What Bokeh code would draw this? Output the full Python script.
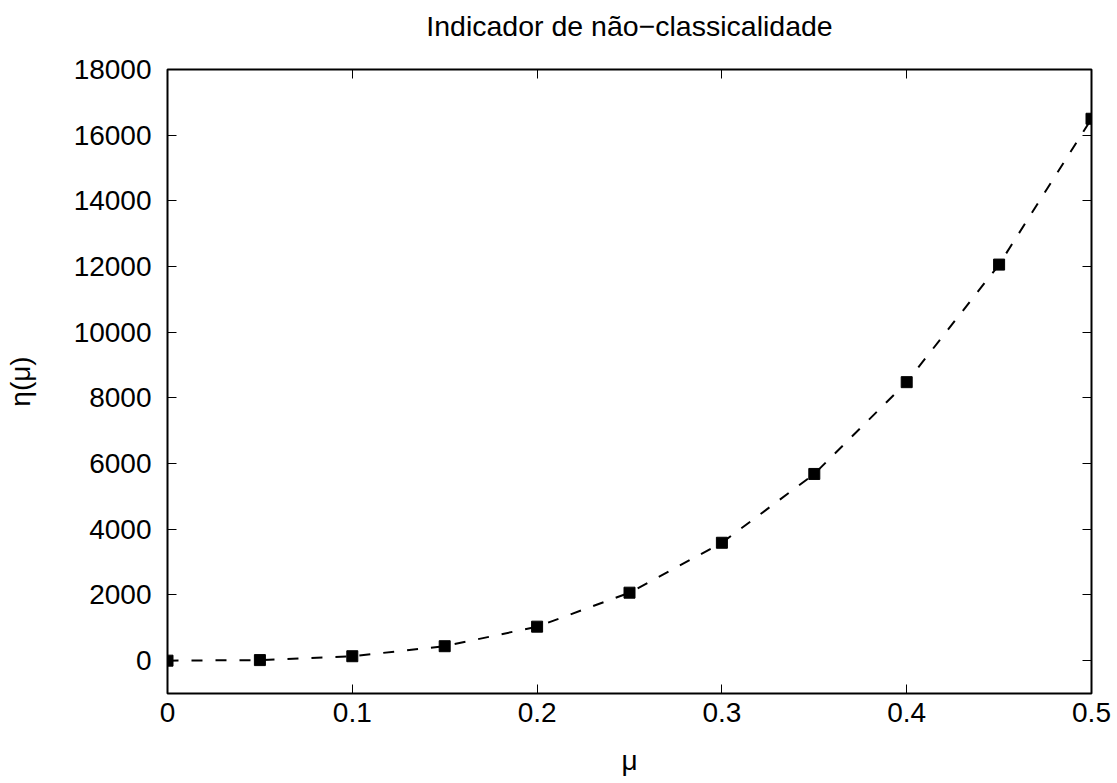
from bokeh.plotting import figure
from bokeh.models import LinearAxis, Range1d, FixedTicker, CustomJSTickFormatter
from bokeh.embed import file_html
from bokeh.resources import INLINE

# Non-classicality indicator eta(mu) sampled at mu = 0, 0.05, ..., 0.5
mu = [0.0, 0.05, 0.10, 0.15, 0.20, 0.25, 0.30, 0.35, 0.40, 0.45, 0.50]
eta = [0, 17, 135, 440, 1035, 2070, 3590, 5685, 8480, 12060, 16500]

x_ticks = [0, 0.1, 0.2, 0.3, 0.4, 0.5]
y_ticks = [0, 2000, 4000, 6000, 8000, 10000, 12000, 14000, 16000, 18000]

TITLE = "Indicador de não\u2212classicalidade"
FONT = "Liberation Sans"
TICK_SIZE = "28px"

p = figure(
    width=1117, height=783,
    frame_width=924, frame_height=624,
    min_border_left=167, min_border_right=26,
    min_border_top=69, min_border_bottom=90,
    x_range=Range1d(0, 0.5), y_range=Range1d(-1000, 18000),
    output_backend="svg", toolbar_location=None,
    x_axis_label="μ", y_axis_label="η(μ)",
)

p.grid.visible = False
p.background_fill_color = "white"
p.border_fill_color = "white"
p.outline_line_color = "black"
p.outline_line_width = 2
p.outline_line_alpha = 1.0


def style_axis(ax, ticks, labels=True):
    ax.ticker = FixedTicker(ticks=ticks)
    ax.major_tick_in = 9
    ax.major_tick_out = 0
    ax.minor_tick_in = 0
    ax.minor_tick_out = 0
    ax.major_tick_line_color = "black"
    ax.major_tick_line_width = 1
    ax.axis_line_color = None
    ax.major_label_text_font = FONT
    ax.major_label_text_font_size = TICK_SIZE
    ax.major_label_text_color = "black"
    ax.axis_label_text_font = FONT
    ax.axis_label_text_font_size = TICK_SIZE
    ax.axis_label_text_font_style = "normal"
    ax.axis_label_text_color = "black"
    if not labels:
        ax.formatter = CustomJSTickFormatter(code="return '';")
        ax.major_label_standoff = 0
        ax.major_label_text_font_size = "1px"


style_axis(p.xaxis[0], x_ticks)
style_axis(p.yaxis[0], y_ticks)
p.xaxis[0].major_label_standoff = 9
p.xaxis[0].axis_label_standoff = 20
p.yaxis[0].major_label_standoff = 16
p.yaxis[0].axis_label_standoff = 35

# mirrored tick marks on the top and right borders; the top axis carries the title
top = LinearAxis(axis_label=TITLE)
right = LinearAxis()
style_axis(top, x_ticks, labels=False)
style_axis(right, y_ticks, labels=False)
top.axis_label_text_font_size = "28.5px"
top.axis_label_standoff = 28
p.add_layout(top, "above")
p.add_layout(right, "right")

p.line(mu, eta, line_color="black", line_width=2, line_dash="11 13")
p.scatter(mu, eta, marker="square", size=11, fill_color="black", line_color="black")

open("out.html", "w").write(file_html(p, INLINE))
